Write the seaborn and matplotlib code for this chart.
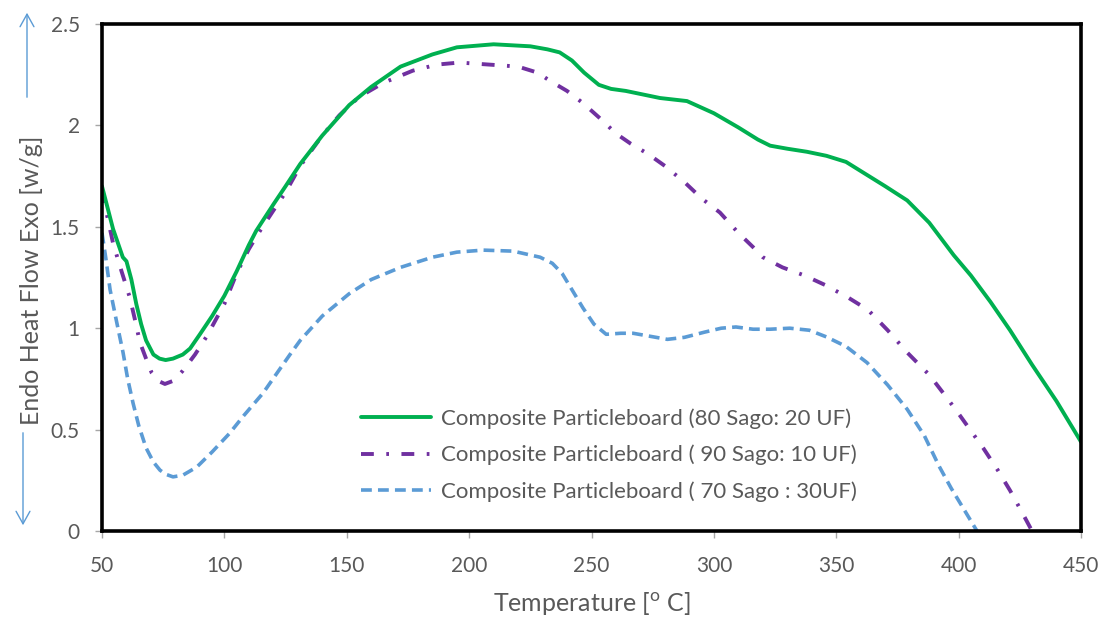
import matplotlib
matplotlib.use("Agg")
import matplotlib.pyplot as plt
import seaborn as sns
import pandas as pd
from matplotlib.lines import Line2D

# ---- data ----
green_x = [50, 54.5, 58.5, 60, 62, 64, 66, 68, 71, 73.5, 76, 79, 83, 86, 90, 95, 100, 105, 110,
           113, 120, 125, 131, 140, 151, 160, 172, 185, 195, 210, 225, 232, 237, 242, 247, 253,
           258, 264, 270, 278, 289, 300, 310, 318, 323, 330, 338, 346, 354, 362, 370, 379, 388,
           398, 405, 413, 421, 430, 440, 450]
green_y = [1.70, 1.49, 1.35, 1.33, 1.24, 1.12, 1.02, 0.94, 0.87, 0.85, 0.843, 0.85, 0.87, 0.90,
           0.97, 1.06, 1.16, 1.28, 1.41, 1.48, 1.61, 1.70, 1.81, 1.95, 2.10, 2.19, 2.29, 2.35,
           2.385, 2.40, 2.39, 2.375, 2.36, 2.32, 2.26, 2.20, 2.18, 2.17, 2.155, 2.135, 2.12,
           2.06, 1.99, 1.93, 1.90, 1.885, 1.87, 1.85, 1.82, 1.76, 1.70, 1.63, 1.52, 1.36, 1.26,
           1.13, 0.99, 0.82, 0.64, 0.44]

purple_x = [50, 52, 54.5, 58, 61.4, 63.5, 65.5, 68, 70.3, 73, 75.7, 79, 83, 88, 92.8, 100, 105,
            110, 114, 120, 125, 131, 140, 147, 155, 165, 177, 187, 196, 208, 220, 228, 233, 240,
            246.5, 253, 260, 266, 273, 280, 288, 295, 302.5, 310, 316, 320, 328, 337, 346, 355,
            363, 371, 379, 388, 395, 400.5, 410, 416, 421, 426, 430]
purple_y = [1.68, 1.56, 1.42, 1.28, 1.15, 1.04, 0.93, 0.85, 0.78, 0.74, 0.725, 0.74, 0.79, 0.87,
            0.96, 1.12, 1.27, 1.39, 1.47, 1.58, 1.67, 1.80, 1.95, 2.05, 2.14, 2.21, 2.27, 2.30,
            2.31, 2.30, 2.29, 2.26, 2.22, 2.17, 2.11, 2.04, 1.96, 1.91, 1.86, 1.80, 1.72, 1.64,
            1.57, 1.47, 1.40, 1.35, 1.30, 1.26, 1.21, 1.15, 1.09, 0.99, 0.88, 0.77, 0.66, 0.57,
            0.41, 0.30, 0.20, 0.09, 0.00]

blue_x = [50, 51.5, 53.3, 56, 58.6, 60.5, 62.7, 65, 68, 71, 73.7, 76, 79, 83, 88.7, 95, 102, 108,
          115.8, 121, 126.8, 131, 140, 151, 160, 172, 185, 195, 205.7, 218, 229, 234, 238, 242,
          246.5, 251, 256, 262, 267, 274, 281, 288, 296, 303, 309, 316, 323, 331, 339, 346, 354,
          362.6, 371, 379, 386, 392, 397, 402, 407.5]
blue_y = [1.47, 1.35, 1.19, 1.03, 0.88, 0.75, 0.63, 0.52, 0.41, 0.34, 0.30, 0.28, 0.267, 0.275,
          0.315, 0.39, 0.48, 0.57, 0.68, 0.77, 0.87, 0.94, 1.06, 1.17, 1.24, 1.30, 1.35, 1.375,
          1.385, 1.38, 1.35, 1.32, 1.27, 1.19, 1.10, 1.02, 0.97, 0.975, 0.975, 0.96, 0.945,
          0.955, 0.98, 1.00, 1.006, 0.995, 0.995, 1.00, 0.99, 0.957, 0.91, 0.83, 0.72, 0.60,
          0.47, 0.32, 0.21, 0.11, 0.00]

labels = ["Composite Particleboard (80 Sago: 20 UF)",
          "Composite Particleboard ( 90 Sago: 10 UF)",
          "Composite Particleboard ( 70 Sago : 30UF)"]
x_ticks = [50, 100, 150, 200, 250, 300, 350, 400, 450]
y_ticks = [0, 0.5, 1, 1.5, 2, 2.5]
y_tick_labels = ["0", "0.5", "1", "1.5", "2", "2.5"]

# ---- style ----
sns.set_style("white")
plt.rcParams['font.family'] = ['Lato', 'DejaVu Sans']
GRAY = "#595959"
GREEN, PURPLE, BLUE = "#00B050", "#7030A0", "#5B9BD5"

fig = plt.figure(figsize=(11.02, 6.19), dpi=100)
ax = fig.add_axes([102 / 1102, 1 - 531 / 619, (1081 - 102) / 1102, (531 - 24) / 619])

dg = pd.DataFrame({"x": green_x, "y": green_y})
dp = pd.DataFrame({"x": purple_x, "y": purple_y})
db = pd.DataFrame({"x": blue_x, "y": blue_y})

sns.lineplot(data=db, x="x", y="y", ax=ax, sort=False, color=BLUE, lw=2.6)
ax.lines[-1].set_linestyle((0, (3.0, 1.7)))
sns.lineplot(data=dp, x="x", y="y", ax=ax, sort=False, color=PURPLE, lw=2.8)
ax.lines[-1].set_linestyle((0, (3.3, 3.2, 0.7, 3.2)))
sns.lineplot(data=dg, x="x", y="y", ax=ax, sort=False, color=GREEN, lw=2.8)
for ln in ax.lines:
    ln.set_solid_capstyle("round")

ax.set_xlim(50, 450)
ax.set_ylim(0, 2.5)
ax.set_xticks(x_ticks)
ax.set_xticklabels([str(t) for t in x_ticks])
ax.set_yticks(y_ticks)
ax.set_yticklabels(y_tick_labels)
ax.tick_params(axis="both", which="both", direction="out", length=5, width=1,
               color="#A6A6A6", labelcolor=GRAY, labelsize=15)
ax.tick_params(axis="x", pad=13)
ax.tick_params(axis="y", pad=11)
ax.tick_params(left=True, bottom=True)
for sp in ax.spines.values():
    sp.set_color("black")
    sp.set_linewidth(2.6)
    sp.set_visible(True)

ax.set_xlabel("Temperature [$^\\mathregular{o}$ C]", fontsize=18, color=GRAY, labelpad=10)
ax.set_ylabel("")

# y label with arrows
fig.text(32 / 1102, 1 - 280 / 619, "Endo Heat Flow Exo [w/g]", rotation=90,
         ha="center", va="center", fontsize=18, color=GRAY)
fig.add_artist(matplotlib.patches.FancyArrowPatch(
    (27 / 1102, 1 - 100 / 619), (27 / 1102, 1 - 10 / 619), transform=fig.transFigure,
    arrowstyle="->,head_length=9,head_width=5", color=BLUE, lw=1, mutation_scale=1))
fig.add_artist(matplotlib.patches.FancyArrowPatch(
    (23 / 1102, 1 - 430 / 619), (23 / 1102, 1 - 528 / 619), transform=fig.transFigure,
    arrowstyle="->,head_length=9,head_width=5", color=BLUE, lw=1, mutation_scale=1))

handles = [Line2D([], [], color=GREEN, lw=2.8),
           Line2D([], [], color=PURPLE, lw=2.8, linestyle=(0, (3.3, 3.2, 0.7, 3.2))),
           Line2D([], [], color=BLUE, lw=2.6, linestyle=(0, (3.0, 1.7)))]
leg = ax.legend(handles, labels, loc="center left", bbox_to_anchor=(352 / 1102, 1 - 455 / 619),
                bbox_transform=fig.transFigure, frameon=False, fontsize=16,
                handlelength=3.15, handletextpad=0.45, labelspacing=0.72, borderaxespad=0)
for t in leg.get_texts():
    t.set_color(GRAY)

fig.savefig("out.png", dpi=100)
